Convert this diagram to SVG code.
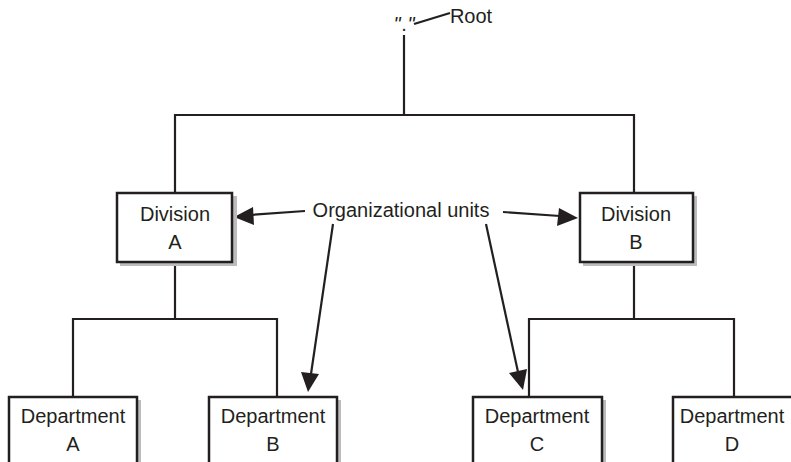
<svg xmlns="http://www.w3.org/2000/svg" width="791" height="462" viewBox="0 0 791 462">
<style>
  .box { fill: #fff; stroke: #231f20; stroke-width: 2.5; }
  .shadow { fill: #bcbcbc; }
  .ln { fill: none; stroke: #231f20; stroke-width: 2.2; }
  .head { fill: #231f20; }
  text { font-family: "Liberation Sans", Arial, sans-serif; font-size: 20px; fill: #231f20; text-anchor: middle; }
</style>
<rect width="791" height="462" fill="#fff"/>
<g id="connectors">
  <path class="ln" d="M404,35 V115"/>
  <path class="ln" d="M175,193 V115 H634 V193"/>
  <path class="ln" d="M175,262 V319"/>
  <path class="ln" d="M73,397 V319 H277 V397"/>
  <path class="ln" d="M634,262 V319"/>
  <path class="ln" d="M529,397 V319 H734 V397"/>
  <path class="ln" d="M414,24 L450,13"/>
</g>
<g id="arrows">
  <path class="ln" d="M305,211 L250,215"/>
  <path class="head" d="M234,217 L253,207 L254,225 z"/>
  <path class="ln" d="M503,212 L560,216"/>
  <path class="head" d="M578,218 L559,208 L557,226 z"/>
  <path class="ln" d="M333,224 L311,374"/>
  <path class="head" d="M308,392 L301,372 L319,374 z"/>
  <path class="ln" d="M486,224 L518,372"/>
  <path class="head" d="M523,390 L509,373 L527,369 z"/>
</g>
<g id="root">
  <text x="397" y="31" font-size="22" font-style="italic">"</text>
  <text x="404" y="31" font-size="18">.</text>
  <text x="411" y="31" font-size="22" font-style="italic">"</text>
  <text x="471" y="23">Root</text>
</g>
<g id="label">
  <text x="401" y="217" font-size="20.5">Organizational units</text>
</g>
<g id="divA">
  <rect class="shadow" x="120" y="196" width="117" height="70"/>
  <rect class="box" x="117" y="193" width="115" height="69"/>
  <text x="175" y="221">Division</text>
  <text x="175" y="249">A</text>
</g>
<g id="divB">
  <rect class="shadow" x="583" y="196" width="114" height="70"/>
  <rect class="box" x="580" y="193" width="113" height="69"/>
  <text x="636" y="221">Division</text>
  <text x="636" y="249">B</text>
</g>
<g id="deptA">
  <rect class="shadow" x="12" y="400" width="129" height="70"/>
  <rect class="box" x="9" y="397" width="128" height="69"/>
  <text x="73" y="423">Department</text>
  <text x="73" y="451">A</text>
</g>
<g id="deptB">
  <rect class="shadow" x="212" y="400" width="129" height="70"/>
  <rect class="box" x="209" y="397" width="128" height="69"/>
  <text x="273" y="423">Department</text>
  <text x="273" y="451">B</text>
</g>
<g id="deptC">
  <rect class="shadow" x="476" y="400" width="130" height="70"/>
  <rect class="box" x="473" y="397" width="129" height="69"/>
  <text x="537" y="423">Department</text>
  <text x="537" y="451">C</text>
</g>
<g id="deptD">
  <rect class="shadow" x="676" y="400" width="120" height="70"/>
  <rect class="box" x="673" y="397" width="128" height="69"/>
  <text x="732" y="423">Department</text>
  <text x="732" y="451">D</text>
</g>
</svg>
